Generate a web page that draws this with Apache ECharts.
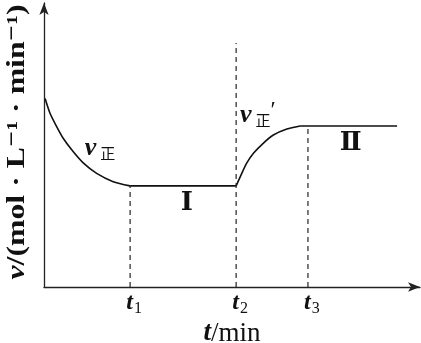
<!DOCTYPE html>
<html><head><meta charset="utf-8">
<script src="https://cdn.jsdelivr.net/npm/echarts@6/dist/echarts.min.js"></script>
<style>html,body{margin:0;padding:0;background:#fff}#c{width:421px;height:343px}</style>
</head><body><div id="c"></div>
<script>
// data (arbitrary time / rate units)
const decayT = [0.03, 0.16, 0.34, 0.51, 0.78, 1.05, 1.40, 1.84, 2.29];
const decayV = [6.64, 6.12, 5.64, 5.24, 4.76, 4.36, 4.00, 3.71, 3.56];
const flat1T = [2.29, 5.11];
const flat1V = [3.56, 3.56];
const riseT = [5.11, 5.26, 5.39, 5.57, 5.83, 6.10, 6.46, 6.81];
const riseV = [3.56, 4.00, 4.36, 4.71, 5.06, 5.35, 5.56, 5.67];
const flat2T = [6.81, 9.39];
const flat2V = [5.67, 5.67];
const tickT = [2.29, 5.11, 7.02];
const tickSub = ['1', '2', '3'];
const guideTop = [3.56, 8.59, 5.67];
const regionLabels = ['Ⅰ', 'Ⅱ'];
const yTitleItalic = 'v';
const yTitleRest = '/(mol · L⁻¹ · min⁻¹)';

const serif = '"Liberation Serif","DejaVu Serif",serif';
const zip = (a, b) => a.map((x, i) => [x, b[i]]);
const lineStyle = { color: '#111', width: 1.6 };

const series = [
  { type: 'line', data: zip(decayT, decayV), smooth: 0.25, symbol: 'none', lineStyle },
  { type: 'line', data: zip(flat1T, flat1V), symbol: 'none', lineStyle },
  { type: 'line', data: zip(riseT, riseV), smooth: 0.25, symbol: 'none', lineStyle },
  { type: 'line', data: zip(flat2T, flat2V), symbol: 'none', lineStyle }
];
tickT.forEach((t, i) => {
  series.push({ type: 'line', data: [[t, 0], [t, guideTop[i]]], symbol: 'none',
    lineStyle: { color: '#222', width: 1.2, type: [5, 4] } });
});

const chart = echarts.init(document.getElementById('c'));
chart.setOption({
  animation: false,
  grid: { left: 44, right: 1, top: 3, bottom: 56, containLabel: false, outerBoundsMode: 'none' },
  xAxis: { type: 'value', min: 0, max: 10,
    axisLine: { show: true, symbol: ['none', 'arrow'], symbolSize: [7, 12], lineStyle: { color: '#222', width: 1.3 } },
    axisTick: { show: false }, axisLabel: { show: false }, splitLine: { show: false },
    name: '{i|t}{n|/min}', nameLocation: 'middle', nameGap: 33,
    nameTextStyle: { rich: { i: { fontFamily: serif, fontStyle: 'italic', fontWeight: 'bold', fontSize: 27, color: '#111' },
                             n: { fontFamily: serif, fontSize: 27, color: '#111' } } } },
  yAxis: { type: 'value', min: 0, max: 10,
    axisLine: { show: true, symbol: ['none', 'arrow'], symbolSize: [7, 12], lineStyle: { color: '#222', width: 1.3 } },
    axisTick: { show: false }, axisLabel: { show: false }, splitLine: { show: false } },
  series
});

// y-axis title, stretched along its length to the reference's span
const yFont = 25;
const cv = document.createElement('canvas').getContext('2d');
cv.font = 'italic bold ' + yFont + 'px ' + serif;
let yw = cv.measureText(yTitleItalic).width;
cv.font = 'bold ' + yFont + 'px ' + serif;
yw += cv.measureText(yTitleRest).width;
const yScale = 275 / yw;

const px = (x, y) => chart.convertToPixel({ gridIndex: 0 }, [x, y]);
const vLab = (pos, prime) => ({
  type: 'text', x: pos[0], y: pos[1],
  style: { text: '{v|v}{s|正}' + (prime ? '{p|′}' : ''), align: 'center', verticalAlign: 'middle',
    rich: { v: { fontFamily: serif, fontStyle: 'italic', fontWeight: 'bold', fontSize: 26, fill: '#111' },
            s: { fontFamily: '"Noto Sans CJK SC",sans-serif', fontSize: 15, fill: '#111', padding: [11, 0, 0, 4] },
            p: { fontFamily: serif, fontSize: 24, fill: '#111', padding: [0, 0, 8, 0] } } }
});
const romLab = (pos, txt) => ({ type: 'text', x: pos[0], y: pos[1],
  style: { text: txt, align: 'center', verticalAlign: 'middle', font: 'bold 26px ' + serif, fill: '#111' } });
const tickLab = (t, sub) => {
  const p = px(t, 0);
  return { type: 'text', x: p[0] + 4, y: p[1] + 16,
    style: { text: '{t|t}{s|' + sub + '}', align: 'center', verticalAlign: 'middle',
      rich: { t: { fontFamily: serif, fontStyle: 'italic', fontWeight: 'bold', fontSize: 24, fill: '#111' },
              s: { fontFamily: serif, fontSize: 16, fill: '#111', padding: [12, 0, 0, 1] } } } };
};
const gridMid = px(0, 5);
chart.setOption({ graphic: [
  vLab(px(1.49, 4.89), false),
  vLab(px(5.69, 6.06), true),
  romLab(px(3.80, 2.96), regionLabels[0]),
  romLab(px(8.16, 5.07), regionLabels[1]),
  { type: 'text', x: 18, y: gridMid[1] - 3, rotation: Math.PI / 2, scaleX: yScale, scaleY: 1,
    style: { text: '{i|' + yTitleItalic + '}{n|' + yTitleRest + '}', align: 'center', verticalAlign: 'middle',
      rich: { i: { fontFamily: serif, fontStyle: 'italic', fontWeight: 'bold', fontSize: yFont, fill: '#111' },
              n: { fontFamily: serif, fontWeight: 'bold', fontSize: yFont, fill: '#111' } } } }
].concat(tickT.map((t, i) => tickLab(t, tickSub[i]))) });
</script></body></html>
